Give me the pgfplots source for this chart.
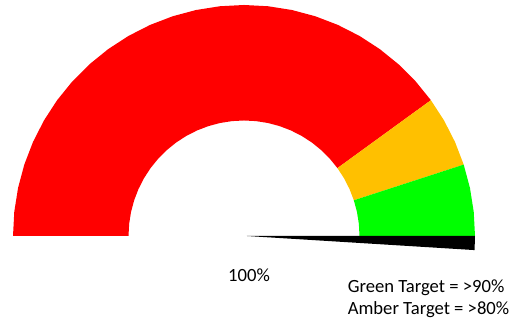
\documentclass[border=0pt]{standalone}
\usepackage{fontspec}
\setmainfont{Carlito}
\usepackage{pgfplots}
\pgfplotsset{compat=1.18}
\definecolor{gRed}{HTML}{FF0000}
\definecolor{gAmber}{HTML}{FFC000}
\definecolor{gGreen}{HTML}{00FF00}
\begin{document}
\begin{tikzpicture}
\begin{axis}[hide axis, scale only axis,
  x=231bp, y=231bp,
  xmin=-1.0563, xmax=1.1645, ymin=-0.381, ymax=1.0216,
  data cs=polar, clip=false]
% Red: 0% - 80%  (180 deg to 36 deg)
\addplot[fill=gRed, draw=none] coordinates {
 (180,1) (174,1) (168,1) (162,1) (156,1) (150,1) (144,1) (138,1) (132,1)
 (126,1) (120,1) (114,1) (108,1) (102,1) (96,1) (90,1) (84,1) (78,1)
 (72,1) (66,1) (60,1) (54,1) (48,1) (42,1) (36,1)
 (36,0.5) (42,0.5) (48,0.5) (54,0.5) (60,0.5) (66,0.5) (72,0.5) (78,0.5)
 (84,0.5) (90,0.5) (96,0.5) (102,0.5) (108,0.5) (114,0.5) (120,0.5)
 (126,0.5) (132,0.5) (138,0.5) (144,0.5) (150,0.5) (156,0.5) (162,0.5)
 (168,0.5) (174,0.5) (180,0.5)} -- cycle;
% Amber: 80% - 90%
\addplot[fill=gAmber, draw=none] coordinates {
 (36,1) (30,1) (24,1) (18,1)
 (18,0.5) (24,0.5) (30,0.5) (36,0.5)} -- cycle;
% Green: 90% - 100%
\addplot[fill=gGreen, draw=none] coordinates {
 (18,1) (12,1) (6,1) (0,1)
 (0,0.5) (6,0.5) (12,0.5) (18,0.5)} -- cycle;
% Needle at 100%
\addplot[fill=black, draw=none] coordinates {
 (0,0.012) (0,1.0) (-3.5,1.0)} -- cycle;
\node[anchor=base, font=\fontsize{18.7}{22}\selectfont] at (axis cs:0.0216,-0.198) {100\%};
\node[anchor=base west, font=\fontsize{18.7}{22}\selectfont] at (axis cs:0.434,-0.2437) {Green Target = >90\%};
\node[anchor=base west, font=\fontsize{18.7}{22}\selectfont] at (axis cs:0.434,-0.342) {Amber Target = >80\%};
\end{axis}
\useasboundingbox (current axis.south west) rectangle (current axis.north east);
\end{tikzpicture}
\end{document}
